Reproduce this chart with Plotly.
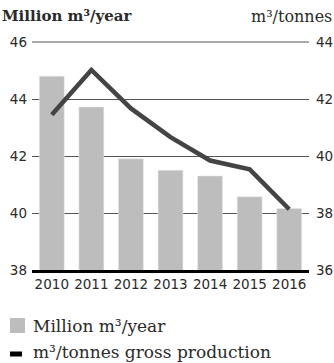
import plotly.graph_objects as go

years = ["2010", "2011", "2012", "2013", "2014", "2015", "2016"]
volume = [44.8, 43.72, 41.9, 41.5, 41.3, 40.57, 40.16]
per_tonne = [41.45, 43.02, 41.67, 40.66, 39.84, 39.53, 38.13]
left_ticks = [38, 40, 42, 44, 46]
right_ticks = [36, 38, 40, 42, 44]
bar_name = "Million m³/year"
line_name = "m³/tonnes gross production"
left_title = "Million m³/year"
right_title = "m³/tonnes"

W, H = 334, 363
ML, MR, MT, MB = 32, 25, 42, 93
PW, PH = W - ML - MR, H - MT - MB

def px_x(x):
    return (x - ML) / PW

def px_y(y):
    return (H - MB - y) / PH

BAR = "#bdbdbd"
LINE = "#444444"
SERIF = "DejaVu Serif"
SANS = "DejaVu Sans"
TXT = "#2a2a2a"

fig = go.Figure()
fig.add_trace(go.Bar(x=years, y=volume, name=bar_name, marker_color=BAR,
                     showlegend=False, yaxis="y"))
fig.add_trace(go.Scatter(x=years, y=per_tonne, name=line_name, mode="lines",
                         line=dict(color=LINE, width=4.5), showlegend=False,
                         yaxis="y2"))

fig.update_layout(
    width=W, height=H, autosize=False,
    margin=dict(l=ML, r=MR, t=MT, b=MB, autoexpand=False),
    paper_bgcolor="white", plot_bgcolor="white",
    bargap=0.37,
    xaxis=dict(showline=True, linecolor="black", linewidth=3, showgrid=False,
               ticks="", automargin=False,
               tickfont=dict(family=SANS, size=13.5, color=TXT)),
    yaxis=dict(range=[38, 46], tickvals=left_ticks, showgrid=True,
               gridcolor="#555", gridwidth=1, zeroline=False, ticks="",
               ticklabelstandoff=4, automargin=False,
               tickfont=dict(family=SANS, size=13.5, color=TXT)),
    yaxis2=dict(range=[36, 44], tickvals=right_ticks, overlaying="y", side="right",
                showgrid=False, zeroline=False, ticks="", ticklabelstandoff=6,
                automargin=False,
                tickfont=dict(family=SANS, size=13.5, color=TXT)),
)

# top gridline at the edge of the range
fig.add_shape(type="line", xref="paper", yref="paper", x0=0, x1=1,
              y0=1, y1=1, line=dict(color="#555", width=1), layer="above")

fig.add_annotation(text="<b>" + left_title + "</b>", xref="paper", yref="paper",
                   x=px_x(0), y=px_y(16), xanchor="left", yanchor="middle",
                   showarrow=False, font=dict(family=SERIF, size=15, color=TXT))
fig.add_annotation(text=right_title, xref="paper", yref="paper",
                   x=px_x(334), y=px_y(16), xanchor="right", yanchor="middle",
                   showarrow=False, font=dict(family=SERIF, size=16, color=TXT))

# custom legend
fig.add_shape(type="rect", xref="paper", yref="paper",
              x0=px_x(10), x1=px_x(25), y0=px_y(318), y1=px_y(333),
              fillcolor=BAR, line=dict(width=0))
fig.add_annotation(text=bar_name, xref="paper", yref="paper",
                   x=px_x(31), y=px_y(326), xanchor="left", yanchor="middle",
                   showarrow=False, font=dict(family=SERIF, size=17, color=TXT))
fig.add_shape(type="line", xref="paper", yref="paper",
              x0=px_x(10), x1=px_x(22), y0=px_y(354), y1=px_y(354),
              line=dict(color="black", width=5))
fig.add_annotation(text=line_name, xref="paper", yref="paper",
                   x=px_x(31), y=px_y(352), xanchor="left", yanchor="middle",
                   showarrow=False, font=dict(family=SERIF, size=17, color=TXT))

fig.write_html("out.html")
